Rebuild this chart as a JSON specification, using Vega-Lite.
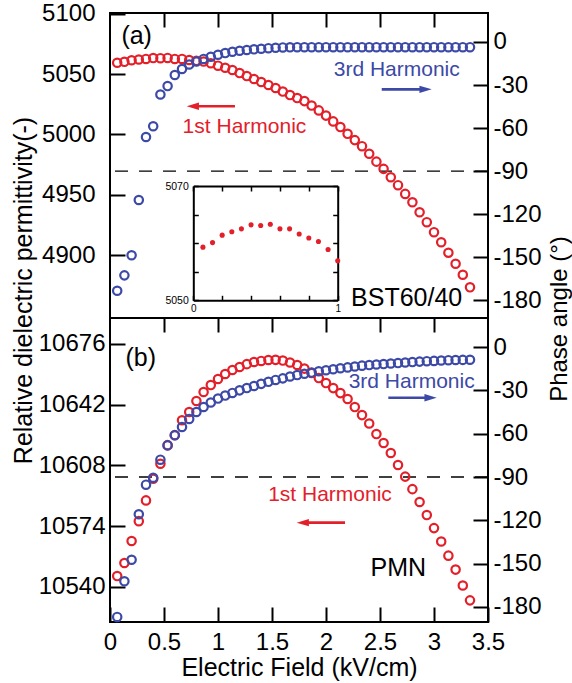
{
"$schema":"https://vega.github.io/schema/vega-lite/v6.json",
"autosize":{"type":"pad"},
"padding":{"left":10,"top":0,"right":0,"bottom":0},
"background":"white",
"bounds":"flush",
"spacing":0,
"config":{
 "view":{"stroke":"black","strokeWidth":2},
 "font":"Liberation Sans",
 "axis":{"domain":false,"grid":false,"ticks":true,"tickColor":"black","tickWidth":2,"tickSize":-15,"labelFont":"Liberation Sans","labelFontSize":24,"labelColor":"black","labelPadding":20,"titleFont":"Liberation Sans","titleFontSize":24,"titleFontWeight":"normal","titleColor":"black","labelFlush":false}
},
"datasets":{
 "ref":[{"p":-90}],
 "a1":[{"E":0.0667,"v":5059.3},{"E":0.1333,"v":5060.1},{"E":0.2,"v":5061.4},{"E":0.2667,"v":5062.0},{"E":0.3333,"v":5062.5},{"E":0.4,"v":5063.2},{"E":0.4667,"v":5063.1},{"E":0.5333,"v":5063.3},{"E":0.6,"v":5062.5},{"E":0.6667,"v":5062.5},{"E":0.7333,"v":5061.6},{"E":0.8,"v":5060.9},{"E":0.8667,"v":5060.3},{"E":0.9333,"v":5058.9},{"E":1.0,"v":5056.9},{"E":1.0667,"v":5055.2},{"E":1.1333,"v":5053.3},{"E":1.2,"v":5050.8},{"E":1.2667,"v":5048.3},{"E":1.3333,"v":5045.9},{"E":1.4,"v":5043.4},{"E":1.4667,"v":5040.9},{"E":1.5333,"v":5038.4},{"E":1.6,"v":5035.5},{"E":1.6667,"v":5032.6},{"E":1.7333,"v":5030.1},{"E":1.8,"v":5027.6},{"E":1.8667,"v":5023.9},{"E":1.9333,"v":5019.9},{"E":2.0,"v":5015.6},{"E":2.0667,"v":5010.8},{"E":2.1333,"v":5006.1},{"E":2.2,"v":5000.5},{"E":2.2667,"v":4995.3},{"E":2.3333,"v":4990.3},{"E":2.4,"v":4984.0},{"E":2.4667,"v":4977.5},{"E":2.5333,"v":4971.5},{"E":2.6,"v":4964.6},{"E":2.6667,"v":4958.0},{"E":2.7333,"v":4950.8},{"E":2.8,"v":4943.9},{"E":2.8667,"v":4935.6},{"E":2.9333,"v":4927.4},{"E":3.0,"v":4919.1},{"E":3.0667,"v":4910.8},{"E":3.1333,"v":4902.1},{"E":3.2,"v":4893.0},{"E":3.2667,"v":4883.9},{"E":3.3333,"v":4873.5}],
 "a3":[{"E":0.0667,"v":-173.3},{"E":0.1333,"v":-162.6},{"E":0.2,"v":-148.6},{"E":0.2667,"v":-110.1},{"E":0.3333,"v":-66.2},{"E":0.4,"v":-58.7},{"E":0.4667,"v":-36.6},{"E":0.5333,"v":-30.7},{"E":0.6,"v":-23.0},{"E":0.6667,"v":-18.8},{"E":0.7333,"v":-15.7},{"E":0.8,"v":-13.6},{"E":0.8667,"v":-11.8},{"E":0.9333,"v":-10.3},{"E":1.0,"v":-8.9},{"E":1.0667,"v":-7.7},{"E":1.1333,"v":-6.8},{"E":1.2,"v":-6.1},{"E":1.2667,"v":-5.6},{"E":1.3333,"v":-5.1},{"E":1.4,"v":-4.7},{"E":1.4667,"v":-4.3},{"E":1.5333,"v":-4.0},{"E":1.6,"v":-3.8},{"E":1.6667,"v":-3.7},{"E":1.7333,"v":-3.6},{"E":1.8,"v":-3.6},{"E":1.8667,"v":-3.6},{"E":1.9333,"v":-3.6},{"E":2.0,"v":-3.6},{"E":2.0667,"v":-3.6},{"E":2.1333,"v":-3.6},{"E":2.2,"v":-3.6},{"E":2.2667,"v":-3.6},{"E":2.3333,"v":-3.6},{"E":2.4,"v":-3.6},{"E":2.4667,"v":-3.6},{"E":2.5333,"v":-3.6},{"E":2.6,"v":-3.6},{"E":2.6667,"v":-3.6},{"E":2.7333,"v":-3.6},{"E":2.8,"v":-3.6},{"E":2.8667,"v":-3.6},{"E":2.9333,"v":-3.6},{"E":3.0,"v":-3.6},{"E":3.0667,"v":-3.6},{"E":3.1333,"v":-3.6},{"E":3.2,"v":-3.6},{"E":3.2667,"v":-3.6},{"E":3.3333,"v":-3.6}],
 "b1":[{"E":0.0667,"v":10546.1},{"E":0.1333,"v":10553.4},{"E":0.2,"v":10565.7},{"E":0.2667,"v":10576.8},{"E":0.3333,"v":10588.4},{"E":0.4,"v":10600.5},{"E":0.4667,"v":10608.9},{"E":0.5333,"v":10619.3},{"E":0.6,"v":10624.9},{"E":0.6667,"v":10633.2},{"E":0.7333,"v":10637.8},{"E":0.8,"v":10644.0},{"E":0.8667,"v":10649.0},{"E":0.9333,"v":10652.9},{"E":1.0,"v":10656.3},{"E":1.0667,"v":10659.1},{"E":1.1333,"v":10661.3},{"E":1.2,"v":10663.0},{"E":1.2667,"v":10664.6},{"E":1.3333,"v":10665.8},{"E":1.4,"v":10666.4},{"E":1.4667,"v":10666.9},{"E":1.5333,"v":10667.0},{"E":1.6,"v":10666.6},{"E":1.6667,"v":10665.5},{"E":1.7333,"v":10664.1},{"E":1.8,"v":10662.1},{"E":1.8667,"v":10659.6},{"E":1.9333,"v":10656.8},{"E":2.0,"v":10654.0},{"E":2.0667,"v":10651.2},{"E":2.1333,"v":10648.4},{"E":2.2,"v":10645.1},{"E":2.2667,"v":10640.6},{"E":2.3333,"v":10636.1},{"E":2.4,"v":10631.4},{"E":2.4667,"v":10625.5},{"E":2.5333,"v":10620.5},{"E":2.6,"v":10614.9},{"E":2.6667,"v":10608.2},{"E":2.7333,"v":10601.7},{"E":2.8,"v":10594.7},{"E":2.8667,"v":10587.5},{"E":2.9333,"v":10580.2},{"E":3.0,"v":10572.9},{"E":3.0667,"v":10565.4},{"E":3.1333,"v":10557.5},{"E":3.2,"v":10549.7},{"E":3.2667,"v":10540.8},{"E":3.3333,"v":10532.5}],
 "b3":[{"E":0.0667,"v":-186.9},{"E":0.1333,"v":-162.2},{"E":0.2,"v":-147.3},{"E":0.2667,"v":-115.8},{"E":0.3333,"v":-95.3},{"E":0.4,"v":-90.5},{"E":0.4667,"v":-78.0},{"E":0.5333,"v":-68.1},{"E":0.6,"v":-61.1},{"E":0.6667,"v":-55.4},{"E":0.7333,"v":-49.8},{"E":0.8,"v":-45.0},{"E":0.8667,"v":-41.5},{"E":0.9333,"v":-38.4},{"E":1.0,"v":-35.7},{"E":1.0667,"v":-33.6},{"E":1.1333,"v":-31.8},{"E":1.2,"v":-30.0},{"E":1.2667,"v":-28.4},{"E":1.3333,"v":-27.0},{"E":1.4,"v":-25.5},{"E":1.4667,"v":-24.1},{"E":1.5333,"v":-22.8},{"E":1.6,"v":-21.7},{"E":1.6667,"v":-20.4},{"E":1.7333,"v":-19.4},{"E":1.8,"v":-18.5},{"E":1.8667,"v":-17.7},{"E":1.9333,"v":-16.8},{"E":2.0,"v":-16.1},{"E":2.0667,"v":-15.4},{"E":2.1333,"v":-14.7},{"E":2.2,"v":-14.1},{"E":2.2667,"v":-13.5},{"E":2.3333,"v":-12.9},{"E":2.4,"v":-12.5},{"E":2.4667,"v":-12.1},{"E":2.5333,"v":-11.8},{"E":2.6,"v":-11.4},{"E":2.6667,"v":-11.1},{"E":2.7333,"v":-10.7},{"E":2.8,"v":-10.4},{"E":2.8667,"v":-10.1},{"E":2.9333,"v":-9.8},{"E":3.0,"v":-9.6},{"E":3.0667,"v":-9.3},{"E":3.1333,"v":-9.1},{"E":3.2,"v":-9.0},{"E":3.2667,"v":-8.9},{"E":3.3333,"v":-8.8}],
 "txtA":[{"t":"1st Harmonic","E":1.245,"p":-59.2,"s":"1st"},{"t":"3rd Harmonic","E":2.655,"p":-19.5,"s":"3rd"}],
 "lblA":[{"t":"(a)","E":0.247,"p":4.2},{"t":"BST60/40","E":2.747,"p":-178.4}],
 "arrA":[{"s":"1st","tail":1.157,"head":0.767,"p":-44.8},{"s":"3rd","tail":2.516,"head":2.922,"p":-33.0}],
 "txtB":[{"t":"1st Harmonic","E":2.037,"p":-102.5,"s":"1st"},{"t":"3rd Harmonic","E":2.793,"p":-24.2,"s":"3rd"}],
 "lblB":[{"t":"(b)","E":0.285,"p":-7.4},{"t":"PMN","E":2.67,"p":-153}],
 "arrB":[{"s":"1st","tail":2.176,"head":1.785,"p":-121.6},{"s":"3rd","tail":2.577,"head":2.968,"p":-35.1}]
},
"vconcat":[
{
 "width":378,"height":305,
 "resolve":{"scale":{"x":"independent","y":"independent"},"axis":{"x":"independent","y":"independent"}},
 "layer":[
  {"data":{"name":"ref"},"mark":{"type":"rule","strokeDash":[13,11],"strokeWidth":1.3,"color":"black"},
   "encoding":{"y":{"field":"p","type":"quantitative","scale":{"domain":[-192.3,20.2],"nice":false,"zero":false},"axis":null}}},
  {"data":{"name":"a1"},"mark":{"type":"point","filled":false,"size":70,"strokeWidth":2.2,"color":"#e3202a","opacity":1},
   "encoding":{
    "x":{"field":"E","type":"quantitative","scale":{"domain":[0,3.5],"nice":false,"zero":false},"axis":{"orient":"top","labels":false,"tickSize":-14,"values":[0.5,1,1.5,2,2.5,3],"title":null}},
    "y":{"field":"v","type":"quantitative","scale":{"domain":[4848.1,5100.5],"nice":false,"zero":false},"axis":{"orient":"left","values":[4900,4950,5000,5050,5100],"format":"d","labelPadding":30,"title":"Relative dielectric permittivity(-)","titleX":-87,"titleY":277,"titleAngle":-90,"titleAlign":"center","titleBaseline":"middle","titleFontSize":25}}}},
  {"data":{"name":"a3"},"mark":{"type":"point","filled":false,"size":70,"strokeWidth":2.2,"color":"#3c49a6","opacity":1},
   "encoding":{
    "x":{"field":"E","type":"quantitative","scale":{"domain":[0,3.5],"nice":false,"zero":false},"axis":null},
    "y":{"field":"v","type":"quantitative","scale":{"domain":[-192.3,20.2],"nice":false,"zero":false},"axis":{"orient":"right","values":[-180,-150,-120,-90,-60,-30,0],"labelExpr":"'' + datum.value","title":"Phase angle (°)","titleX":71,"titleY":305.5,"titleAngle":-90,"titleAlign":"center","titleBaseline":"middle"}}}},
  {"data":{"name":"txtA"},"mark":{"type":"text","fontSize":21,"font":"Liberation Sans","align":"center","baseline":"middle"},
   "encoding":{
    "x":{"field":"E","type":"quantitative","scale":{"domain":[0,3.5],"nice":false,"zero":false},"axis":null},
    "y":{"field":"p","type":"quantitative","scale":{"domain":[-192.3,20.2],"nice":false,"zero":false},"axis":null},
    "text":{"field":"t"},
    "color":{"field":"s","type":"nominal","scale":{"domain":["1st","3rd"],"range":["#e3202a","#3c49a6"]},"legend":null}}},
  {"data":{"name":"lblA"},"mark":{"type":"text","fontSize":25,"font":"Liberation Sans","align":"center","baseline":"middle","color":"black"},
   "encoding":{
    "x":{"field":"E","type":"quantitative","scale":{"domain":[0,3.5],"nice":false,"zero":false},"axis":null},
    "y":{"field":"p","type":"quantitative","scale":{"domain":[-192.3,20.2],"nice":false,"zero":false},"axis":null},
    "text":{"field":"t"}}},
  {"data":{"name":"arrA"},"mark":{"type":"rule","strokeWidth":2.6},
   "encoding":{
    "x":{"field":"tail","type":"quantitative","scale":{"domain":[0,3.5],"nice":false,"zero":false},"axis":null},
    "x2":{"field":"head"},
    "y":{"field":"p","type":"quantitative","scale":{"domain":[-192.3,20.2],"nice":false,"zero":false},"axis":null},
    "color":{"field":"s","type":"nominal","scale":{"domain":["1st","3rd"],"range":["#e3202a","#3c49a6"]},"legend":null}}},
  {"data":{"name":"arrA"},"mark":{"type":"point","filled":true,"size":150,"strokeWidth":0,"opacity":1},
   "encoding":{
    "x":{"field":"head","type":"quantitative","scale":{"domain":[0,3.5],"nice":false,"zero":false},"axis":null},
    "y":{"field":"p","type":"quantitative","scale":{"domain":[-192.3,20.2],"nice":false,"zero":false},"axis":null},
    "shape":{"field":"s","type":"nominal","scale":{"domain":["1st","3rd"],"range":["M-1,0L1,-0.6L1,0.6Z","M1,0L-1,-0.6L-1,0.6Z"]},"legend":null},
    "color":{"field":"s","type":"nominal","scale":{"domain":["1st","3rd"],"range":["#e3202a","#3c49a6"]},"legend":null}}},
  {"data":{"name":"a1"},"transform":[{"filter":"datum.E <= 1.0001"}],"mark":{"type":"circle","size":26,"color":"#e3202a","opacity":1},
   "encoding":{
    "x":{"field":"E","type":"quantitative","scale":{"domain":[0,1],"range":[83.3,227.7],"nice":false,"zero":false},"axis":{"orient":"bottom","offset":-17.7,"values":[0,0.2,0.4,0.6,0.8,1],"format":"~g","labelExpr":"datum.value == 0 || datum.value == 1 ? datum.label : ''","labelFontSize":10,"labelPadding":8,"tickSize":-5,"tickWidth":1.5,"domain":true,"domainColor":"black","domainWidth":2,"title":null}},
    "y":{"field":"v","type":"quantitative","scale":{"domain":[5050,5070],"range":[287.3,173],"nice":false,"zero":false},"axis":{"orient":"left","offset":-83.3,"values":[5050,5055,5060,5065,5070],"format":"d","labelExpr":"datum.value == 5050 || datum.value == 5070 ? datum.label : ''","labelFontSize":10.5,"labelPadding":10,"tickSize":-5,"tickWidth":1.5,"domain":true,"domainColor":"black","domainWidth":2,"title":null}}}},
  {"data":{"name":"a1"},"transform":[{"filter":"datum.E <= 1.0001"}],"mark":{"type":"circle","size":26,"opacity":0},
   "encoding":{
    "x":{"field":"E","type":"quantitative","scale":{"domain":[0,1],"range":[83.3,227.7],"nice":false,"zero":false},"axis":{"orient":"top","offset":-173,"values":[0,0.2,0.4,0.6,0.8,1],"labels":false,"tickSize":-5,"tickWidth":1.5,"domain":true,"domainColor":"black","domainWidth":2,"title":null}},
    "y":{"field":"v","type":"quantitative","scale":{"domain":[5050,5070],"range":[287.3,173],"nice":false,"zero":false},"axis":{"orient":"right","offset":-150.3,"values":[5050,5055,5060,5065,5070],"labels":false,"tickSize":-5,"tickWidth":1.5,"domain":true,"domainColor":"black","domainWidth":2,"title":null}}}}
 ]
},
{
 "width":378,"height":304,
 "resolve":{"scale":{"x":"independent","y":"independent"},"axis":{"x":"independent","y":"independent"}},
 "layer":[
  {"data":{"name":"ref"},"mark":{"type":"rule","strokeDash":[13,11],"strokeWidth":1.3,"color":"black"},
   "encoding":{"y":{"field":"p","type":"quantitative","scale":{"domain":[-190.4,20.1],"nice":false,"zero":false},"axis":null}}},
  {"data":{"name":"b1"},"mark":{"type":"point","filled":false,"size":70,"strokeWidth":2.2,"color":"#e3202a","opacity":1},
   "encoding":{
    "x":{"field":"E","type":"quantitative","scale":{"domain":[0,3.5],"nice":false,"zero":false},"axis":{"orient":"top","labels":false,"tickSize":-14,"values":[0.5,1,1.5,2,2.5,3],"title":null}},
    "y":{"field":"v","type":"quantitative","scale":{"domain":[10520.4,10690.4],"nice":false,"zero":false},"axis":{"orient":"left","values":[10540,10574,10608,10642,10676],"format":"d","labelPadding":20,"title":null}}}},
  {"data":{"name":"b3"},"mark":{"type":"point","filled":false,"size":70,"strokeWidth":2.2,"color":"#3c49a6","opacity":1},
   "encoding":{
    "x":{"field":"E","type":"quantitative","scale":{"domain":[0,3.5],"nice":false,"zero":false},"axis":{"orient":"bottom","values":[0,0.5,1,1.5,2,2.5,3,3.5],"format":"~g","labelPadding":23,"tickSize":-15,"title":"Electric Field (kV/cm)","titleY":53,"titleBaseline":"alphabetic","titleFontSize":25}},
    "y":{"field":"v","type":"quantitative","scale":{"domain":[-190.4,20.1],"nice":false,"zero":false},"axis":{"orient":"right","values":[-180,-150,-120,-90,-60,-30,0],"labelExpr":"'' + datum.value","title":null}}}},
  {"data":{"name":"txtB"},"mark":{"type":"text","fontSize":21,"font":"Liberation Sans","align":"center","baseline":"middle"},
   "encoding":{
    "x":{"field":"E","type":"quantitative","scale":{"domain":[0,3.5],"nice":false,"zero":false},"axis":null},
    "y":{"field":"p","type":"quantitative","scale":{"domain":[-190.4,20.1],"nice":false,"zero":false},"axis":null},
    "text":{"field":"t"},
    "color":{"field":"s","type":"nominal","scale":{"domain":["1st","3rd"],"range":["#e3202a","#3c49a6"]},"legend":null}}},
  {"data":{"name":"lblB"},"mark":{"type":"text","fontSize":25,"font":"Liberation Sans","align":"center","baseline":"middle","color":"black"},
   "encoding":{
    "x":{"field":"E","type":"quantitative","scale":{"domain":[0,3.5],"nice":false,"zero":false},"axis":null},
    "y":{"field":"p","type":"quantitative","scale":{"domain":[-190.4,20.1],"nice":false,"zero":false},"axis":null},
    "text":{"field":"t"}}},
  {"data":{"name":"arrB"},"mark":{"type":"rule","strokeWidth":2.6},
   "encoding":{
    "x":{"field":"tail","type":"quantitative","scale":{"domain":[0,3.5],"nice":false,"zero":false},"axis":null},
    "x2":{"field":"head"},
    "y":{"field":"p","type":"quantitative","scale":{"domain":[-190.4,20.1],"nice":false,"zero":false},"axis":null},
    "color":{"field":"s","type":"nominal","scale":{"domain":["1st","3rd"],"range":["#e3202a","#3c49a6"]},"legend":null}}},
  {"data":{"name":"arrB"},"mark":{"type":"point","filled":true,"size":150,"strokeWidth":0,"opacity":1},
   "encoding":{
    "x":{"field":"head","type":"quantitative","scale":{"domain":[0,3.5],"nice":false,"zero":false},"axis":null},
    "y":{"field":"p","type":"quantitative","scale":{"domain":[-190.4,20.1],"nice":false,"zero":false},"axis":null},
    "shape":{"field":"s","type":"nominal","scale":{"domain":["1st","3rd"],"range":["M-1,0L1,-0.6L1,0.6Z","M1,0L-1,-0.6L-1,0.6Z"]},"legend":null},
    "color":{"field":"s","type":"nominal","scale":{"domain":["1st","3rd"],"range":["#e3202a","#3c49a6"]},"legend":null}}}
 ]
}
]
}
